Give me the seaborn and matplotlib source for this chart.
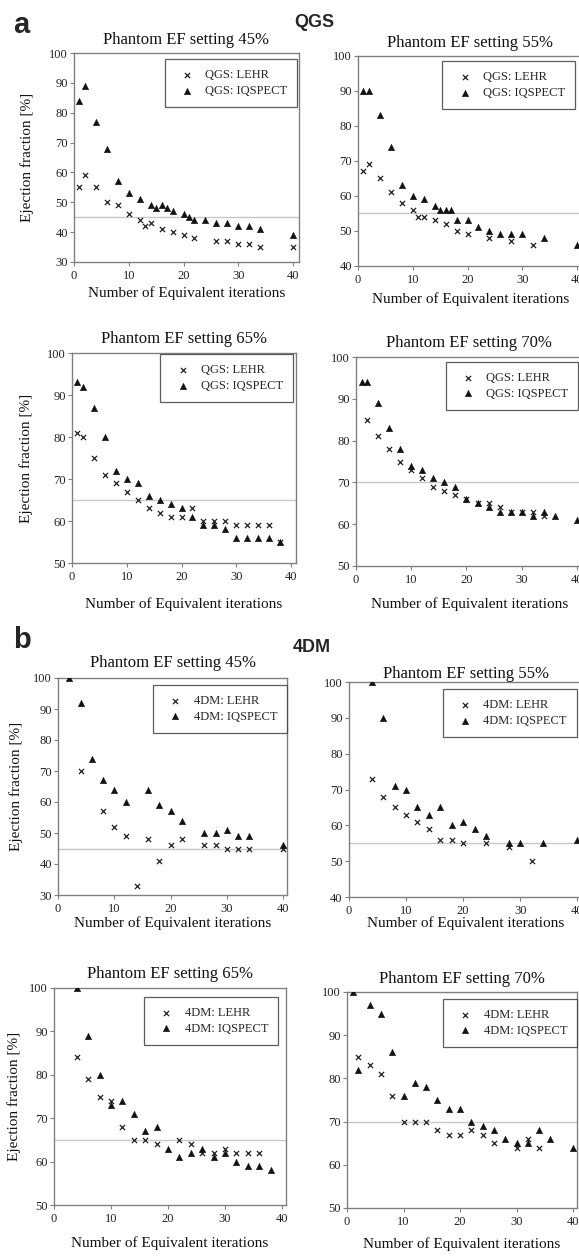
import matplotlib
matplotlib.use("Agg")
import matplotlib.pyplot as plt
import seaborn as sns
import pandas as pd

# ---------------- data ----------------
titles = ["Phantom EF setting 45%", "Phantom EF setting 55%",
          "Phantom EF setting 65%", "Phantom EF setting 70%"]
settings = [45, 55, 65, 70]

# QGS panels
qgs45_lehr_x = [1, 2, 4, 6, 8, 10, 12, 13, 14, 16, 18, 20, 22, 26, 28, 30, 32, 34, 40]
qgs45_lehr_y = [55, 59, 55, 50, 49, 46, 44, 42, 43, 41, 40, 39, 38, 37, 37, 36, 36, 35, 35]
qgs45_iq_x = [1, 2, 4, 6, 8, 10, 12, 14, 15, 16, 17, 18, 20, 21, 22, 24, 26, 28, 30, 32, 34, 40]
qgs45_iq_y = [84, 89, 77, 68, 57, 53, 51, 49, 48, 49, 48, 47, 46, 45, 44, 44, 43, 43, 42, 42, 41, 39]

qgs55_lehr_x = [1, 2, 4, 6, 8, 10, 11, 12, 14, 16, 18, 20, 24, 28, 32]
qgs55_lehr_y = [67, 69, 65, 61, 58, 56, 54, 54, 53, 52, 50, 49, 48, 47, 46]
qgs55_iq_x = [1, 2, 4, 6, 8, 10, 12, 14, 15, 16, 17, 18, 20, 22, 24, 26, 28, 30, 34, 40]
qgs55_iq_y = [90, 90, 83, 74, 63, 60, 59, 57, 56, 56, 56, 53, 53, 51, 50, 49, 49, 49, 48, 46]

qgs65_lehr_x = [1, 2, 4, 6, 8, 10, 12, 14, 16, 18, 20, 22, 24, 26, 28, 30, 32, 34, 36, 38]
qgs65_lehr_y = [81, 80, 75, 71, 69, 67, 65, 63, 62, 61, 61, 63, 60, 60, 60, 59, 59, 59, 59, 55]
qgs65_iq_x = [1, 2, 4, 6, 8, 10, 12, 14, 16, 18, 20, 22, 24, 26, 28, 30, 32, 34, 36, 38]
qgs65_iq_y = [93, 92, 87, 80, 72, 70, 69, 66, 65, 64, 63, 61, 59, 59, 58, 56, 56, 56, 56, 55]

qgs70_lehr_x = [2, 4, 6, 8, 10, 12, 14, 16, 18, 20, 22, 24, 26, 28, 30, 32, 34]
qgs70_lehr_y = [85, 81, 78, 75, 73, 71, 69, 68, 67, 66, 65, 65, 64, 63, 63, 63, 62]
qgs70_iq_x = [1, 2, 4, 6, 8, 10, 12, 14, 16, 18, 20, 22, 24, 26, 28, 30, 32, 34, 36, 40]
qgs70_iq_y = [94, 94, 89, 83, 78, 74, 73, 71, 70, 69, 66, 65, 64, 63, 63, 63, 62, 63, 62, 61]

# 4DM panels
dm45_lehr_x = [4, 8, 10, 12, 14, 16, 18, 20, 22, 26, 28, 30, 32, 34, 40]
dm45_lehr_y = [70, 57, 52, 49, 33, 48, 41, 46, 48, 46, 46, 45, 45, 45, 45]
dm45_iq_x = [2, 4, 6, 8, 10, 12, 16, 18, 20, 22, 26, 28, 30, 32, 34, 40]
dm45_iq_y = [100, 92, 74, 67, 64, 60, 64, 59, 57, 54, 50, 50, 51, 49, 49, 46]

dm55_lehr_x = [4, 6, 8, 10, 12, 14, 16, 18, 20, 24, 28, 32]
dm55_lehr_y = [73, 68, 65, 63, 61, 59, 56, 56, 55, 55, 54, 50]
dm55_iq_x = [4, 6, 8, 10, 12, 14, 16, 18, 20, 22, 24, 28, 30, 34, 40]
dm55_iq_y = [100, 90, 71, 70, 65, 63, 65, 60, 61, 59, 57, 55, 55, 55, 56]

dm65_lehr_x = [4, 6, 8, 10, 12, 14, 16, 18, 22, 24, 26, 28, 30, 32, 34, 36]
dm65_lehr_y = [84, 79, 75, 74, 68, 65, 65, 64, 65, 64, 62, 62, 63, 62, 62, 62]
dm65_iq_x = [4, 6, 8, 10, 12, 14, 16, 18, 20, 22, 24, 26, 28, 30, 32, 34, 36, 38]
dm65_iq_y = [100, 89, 80, 73, 74, 71, 67, 68, 63, 61, 62, 63, 61, 62, 60, 59, 59, 58]

dm70_lehr_x = [2, 4, 6, 8, 10, 12, 14, 16, 18, 20, 22, 24, 26, 30, 32, 34]
dm70_lehr_y = [85, 83, 81, 76, 70, 70, 70, 68, 67, 67, 68, 67, 65, 64, 66, 64]
dm70_iq_x = [1, 2, 4, 6, 8, 10, 12, 14, 16, 18, 20, 22, 24, 26, 28, 30, 32, 34, 36, 40]
dm70_iq_y = [100, 82, 97, 95, 86, 76, 79, 78, 75, 73, 73, 70, 69, 68, 66, 65, 65, 68, 66, 64]

panels = [
    ("QGS", 0, qgs45_lehr_x, qgs45_lehr_y, qgs45_iq_x, qgs45_iq_y, (30, 100)),
    ("QGS", 1, qgs55_lehr_x, qgs55_lehr_y, qgs55_iq_x, qgs55_iq_y, (40, 100)),
    ("QGS", 2, qgs65_lehr_x, qgs65_lehr_y, qgs65_iq_x, qgs65_iq_y, (50, 100)),
    ("QGS", 3, qgs70_lehr_x, qgs70_lehr_y, qgs70_iq_x, qgs70_iq_y, (50, 100)),
    ("4DM", 0, dm45_lehr_x, dm45_lehr_y, dm45_iq_x, dm45_iq_y, (30, 100)),
    ("4DM", 1, dm55_lehr_x, dm55_lehr_y, dm55_iq_x, dm55_iq_y, (40, 100)),
    ("4DM", 2, dm65_lehr_x, dm65_lehr_y, dm65_iq_x, dm65_iq_y, (50, 100)),
    ("4DM", 3, dm70_lehr_x, dm70_lehr_y, dm70_iq_x, dm70_iq_y, (50, 100)),
]

# ---------------- layout (pixels) ----------------
W, H = 579, 1257
rects = [  # left, top, right, bottom
    (74, 53, 298.5, 262), (358, 56, 582.5, 265.7),
    (72, 353, 296, 563), (356, 357, 582.5, 566),
    (58, 678, 287, 895), (349, 682, 583, 897),
    (54, 988, 286, 1205), (347, 992, 577, 1208),
]
xmaxs = [41, 41, 40.9, 41, 40.7, 41, 40.7, 40.7]
title_pads = [6.5, 6.5, 7.2, 7.2, 7.9, 2.2, 7.2, 6.5]
xlabel_y = [-0.115, -0.125, -0.162, -0.148, -0.097, -0.088, -0.143, -0.134]
ylabel_x = {0: -0.178, 2: -0.174, 4: -0.152, 6: -0.142}
legend_anchor = [(0.995, 0.971), (0.967, 0.976), (0.987, 0.995), (0.982, 0.976),
                 (1.0, 0.968), (0.974, 0.967), (0.966, 0.959), (1.0, 0.968)]

sns.set_style("ticks")
plt.rcParams["font.family"] = ["Liberation Serif", "DejaVu Serif"]

fig = plt.figure(figsize=(W / 100, H / 100), dpi=100)
spine_col = "#808080"

for i, (prog, k, lx, ly, qx, qy, ylim) in enumerate(panels):
    l, t, r, b = rects[i]
    ax = fig.add_axes([l / W, 1 - b / H, (r - l) / W, (b - t) / H])
    ax.axhline(settings[k], color="#c8c8c8", lw=1.0, zorder=1)
    sns.scatterplot(x=lx, y=ly, ax=ax, marker="x", color="#222222", s=14,
                    linewidth=0.9, label=f"{prog}: LEHR", zorder=3)
    sns.scatterplot(x=qx, y=qy, ax=ax, marker="^", color="#111111", s=22,
                    edgecolor="#111111", linewidth=0.3, label=f"{prog}: IQSPECT", zorder=3)
    ax.set_xlim(0, xmaxs[i])
    ax.set_ylim(*ylim)
    ax.set_xticks([0, 10, 20, 30, 40])
    ax.set_yticks(list(range(ylim[0], 101, 10)))
    for sp in ax.spines.values():
        sp.set_color(spine_col)
        sp.set_linewidth(1.0)
        sp.set_visible(True)
    ax.tick_params(axis="both", direction="out", length=3, width=0.8,
                   color=spine_col, labelsize=9, labelcolor="#222222")
    ax.tick_params(axis="x", pad=3)
    ax.tick_params(axis="y", pad=1.5)
    ax.set_title(titles[k], fontsize=12, color="#111111", pad=title_pads[i])
    ax.set_xlabel("Number of Equivalent iterations", fontsize=11, color="#111111")
    ax.xaxis.set_label_coords(0.5, xlabel_y[i])
    if i in ylabel_x:
        ax.set_ylabel("Ejection fraction [%]", fontsize=11, color="#111111")
        ax.yaxis.set_label_coords(ylabel_x[i], 0.5)
    else:
        ax.set_ylabel("")
    leg = ax.legend(loc="upper right", bbox_to_anchor=legend_anchor[i],
                    borderaxespad=0, frameon=True, fancybox=False, fontsize=9,
                    borderpad=0.8, handlelength=2.0, handletextpad=0.45,
                    labelspacing=0.3, edgecolor="#333333")
    leg.get_frame().set_linewidth(0.9)

sans = ["Liberation Sans", "DejaVu Sans"]
fig.text(13 / W, 1 - 33 / H, "a", fontsize=21, fontweight="bold", family=sans, va="baseline")
fig.text(314 / W, 1 - 27 / H, "QGS", fontsize=13, fontweight="bold", family=sans,
         ha="center", va="baseline")
fig.text(13 / W, 1 - 648 / H, "b", fontsize=21, fontweight="bold", family=sans, va="baseline")
fig.text(312 / W, 1 - 652 / H, "4DM", fontsize=13, fontweight="bold", family=sans,
         ha="center", va="baseline")

fig.savefig("out.png", dpi=100)
